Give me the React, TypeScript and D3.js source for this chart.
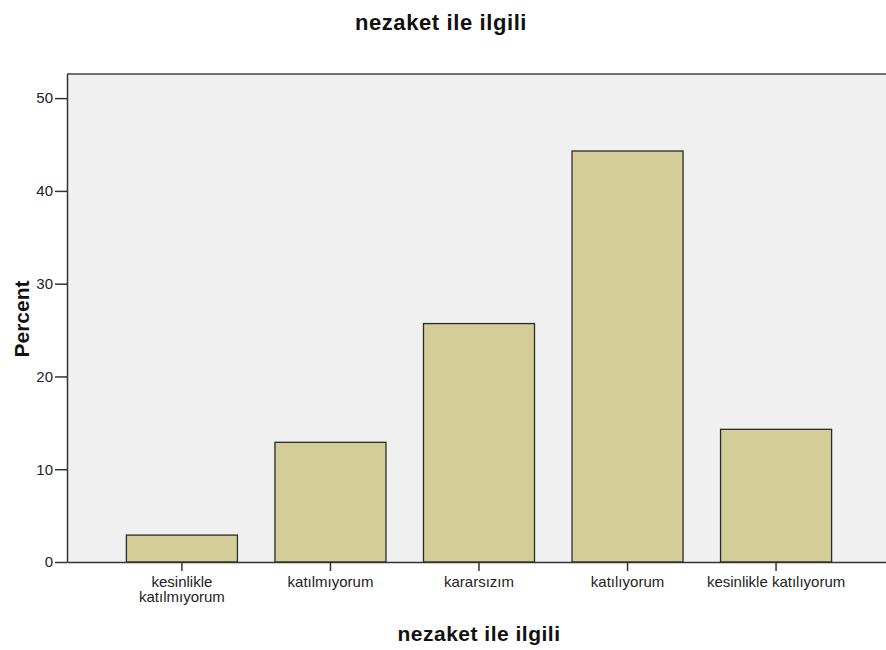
import React, { useEffect, useRef } from 'react';
import * as d3 from 'd3';

const categories = [
  'kesinlikle katılmıyorum',
  'katılmıyorum',
  'kararsızım',
  'katılıyorum',
  'kesinlikle katılıyorum',
];
const percents = [2.9, 12.9, 25.7, 44.3, 14.3];
const yTicks = [0, 10, 20, 30, 40, 50];
const yMax = 52.6;
const title = 'nezaket ile ilgili';
const xTitle = 'nezaket ile ilgili';
const yTitle = 'Percent';

const W = 886, H = 650;
const FONT = '"Liberation Sans", Arial, sans-serif';

export default function App() {
  const ref = useRef<SVGSVGElement | null>(null);

  useEffect(() => {
    const svg = d3.select(ref.current);
    svg.selectAll('*').remove();

    const left = 67, top = 74, bottom = 562, right = 891;

    const x = d3.scaleBand<string>()
      .domain(categories)
      .range([left, right])
      .paddingInner(0.2525)
      .paddingOuter(0.4);

    const y = d3.scaleLinear().domain([0, yMax]).range([bottom, top]);

    // plot background
    svg.append('rect')
      .attr('x', left).attr('y', top)
      .attr('width', right - left).attr('height', bottom - top)
      .attr('fill', '#f0f0f0');

    // top frame line
    svg.append('line')
      .attr('x1', left).attr('x2', right)
      .attr('y1', top).attr('y2', top)
      .attr('stroke', '#444').attr('stroke-width', 1.5);

    // bars
    svg.append('g')
      .selectAll('rect')
      .data(percents)
      .enter().append('rect')
      .attr('x', (d, i) => x(categories[i])!)
      .attr('y', d => y(d))
      .attr('width', x.bandwidth())
      .attr('height', d => y(0) - y(d))
      .attr('fill', '#d3ce97')
      .attr('stroke', '#2b2b2b')
      .attr('stroke-width', 1.3);

    // y axis
    const yAxis = svg.append('g')
      .attr('transform', `translate(${left},0)`)
      .call(d3.axisLeft(y).tickValues(yTicks).tickSize(12).tickSizeOuter(0)
        .tickPadding(2).tickFormat(d3.format('d')));
    yAxis.select('.domain').attr('stroke', '#333').attr('stroke-width', 1.5);
    yAxis.selectAll('.tick line').attr('stroke', '#333').attr('stroke-width', 1.5);
    yAxis.selectAll('.tick text')
      .attr('font-family', FONT).attr('font-size', 15).attr('fill', '#222');

    // x axis
    const xAxis = svg.append('g')
      .attr('transform', `translate(0,${bottom})`)
      .call(d3.axisBottom(x).tickSize(9).tickPadding(5).tickSizeOuter(0));
    xAxis.select('.domain').attr('stroke', '#333').attr('stroke-width', 1.5);
    xAxis.selectAll('.tick line').attr('stroke', '#333').attr('stroke-width', 1.5);
    xAxis.selectAll<SVGTextElement, string>('.tick text')
      .attr('font-family', FONT).attr('font-size', 15).attr('fill', '#222')
      .each(function (d) {
        const t = d3.select(this);
        const words = d.split(' ');
        if (words.length < 2 || this.getComputedTextLength() < x.step()) return;
        t.text(null);
        const y0 = t.attr('y');
        words.forEach((w, i) => {
          t.append('tspan').attr('x', 0).attr('y', y0)
            .attr('dy', `${0.71 + i * 1.05}em`).text(w);
        });
      });

    // titles
    svg.append('text')
      .attr('x', 441).attr('y', 30)
      .attr('text-anchor', 'middle')
      .attr('font-family', FONT).attr('font-weight', 'bold')
      .attr('font-size', 22).attr('letter-spacing', 0.6)
      .attr('fill', '#111')
      .text(title);

    svg.append('text')
      .attr('x', (left + right) / 2).attr('y', 641)
      .attr('text-anchor', 'middle')
      .attr('font-family', FONT).attr('font-weight', 'bold')
      .attr('font-size', 21).attr('letter-spacing', 0.5)
      .attr('fill', '#111')
      .text(xTitle);

    svg.append('text')
      .attr('transform', `translate(29,${(top + bottom) / 2 + 1}) rotate(-90)`)
      .attr('text-anchor', 'middle')
      .attr('font-family', FONT).attr('font-weight', 'bold')
      .attr('font-size', 21)
      .attr('fill', '#111')
      .text(yTitle);
  }, []);

  return (
    <svg
      ref={ref}
      width={W}
      height={H}
      style={{ position: 'absolute', left: 0, top: 0, background: '#fff' }}
    />
  );
}
